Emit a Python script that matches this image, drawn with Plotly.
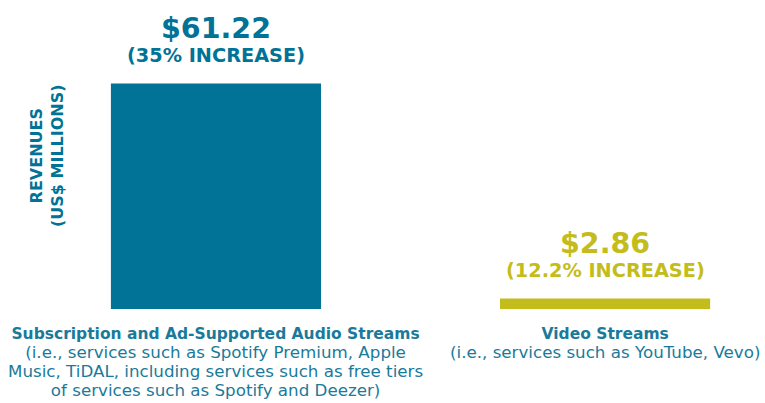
import plotly.graph_objects as go

# Revenue by streaming type (US$ millions)
categories = ["Subscription and Ad-Supported Audio Streams", "Video Streams"]
category_notes = [
    [
        "(i.e., services such as Spotify Premium, Apple",
        "Music, TiDAL, including services such as free tiers",
        "of services such as Spotify and Deezer)",
    ],
    ["(i.e., services such as YouTube, Vevo)"],
]
revenues = [61.22, 2.86]
increase_labels = ["(35% INCREASE)", "(12.2% INCREASE)"]
bar_colors = ["#007396", "#C4BC1A"]
label_color = "#1A7A9A"
font_family = "DejaVu Sans, sans-serif"

xs = list(range(len(categories)))

fig = go.Figure(
    go.Bar(
        x=xs,
        y=revenues,
        width=0.54,
        marker=dict(color=bar_colors, line=dict(width=0)),
        hoverinfo="skip",
    )
)

annotations = []
for x, v, inc, col, cat, note in zip(xs, revenues, increase_labels, bar_colors, categories, category_notes):
    annotations.append(dict(
        x=x, y=v, xref="x", yref="y", yanchor="middle", yshift=55,
        text=f"<b>${v:.2f}</b>", showarrow=False,
        font=dict(family=font_family, size=28.5, color=col),
    ))
    annotations.append(dict(
        x=x, y=v, xref="x", yref="y", yanchor="middle", yshift=28,
        text=f"<b>{inc}</b>", showarrow=False,
        font=dict(family=font_family, size=19.3, color=col),
    ))
    # Category caption: bold title line followed by wider note lines,
    # with line spacing set by the base font size.
    lines = [f"<span style='font-size:15.5px'><b>{cat}</b></span>"]
    lines += [f"<span style='font-size:16.7px'>{ln}</span>" for ln in note]
    annotations.append(dict(
        x=x, y=0, xref="x", yref="y", yanchor="top", yshift=-14,
        text="<br>".join(lines), showarrow=False, align="center",
        font=dict(family=font_family, size=14.6, color=label_color),
    ))

annotations.append(dict(
    x=47, y=156, xref="paper", yref="paper", showarrow=False,
    text="<b>REVENUES<br>(US$ MILLIONS)</b>", textangle=-90,
    font=dict(family=font_family, size=16, color=bar_colors[0]),
))

fig.update_layout(
    width=765,
    height=403,
    margin=dict(l=0, r=0, t=0, b=94),
    paper_bgcolor="white",
    plot_bgcolor="white",
    showlegend=False,
    xaxis=dict(range=[-0.555, 1.411], visible=False, fixedrange=True),
    yaxis=dict(range=[0, 83.9], visible=False, fixedrange=True),
    annotations=annotations,
)

# The rotated axis caption uses pixel coordinates; convert to paper units.
plot_h = 403 - 94
for a in fig.layout.annotations:
    if a.xref == "paper":
        a.x = a.x / 765
        a.y = (403 - a.y - 94) / plot_h
        a.xanchor = "center"
        a.yanchor = "middle"

fig.write_html("out.html")
